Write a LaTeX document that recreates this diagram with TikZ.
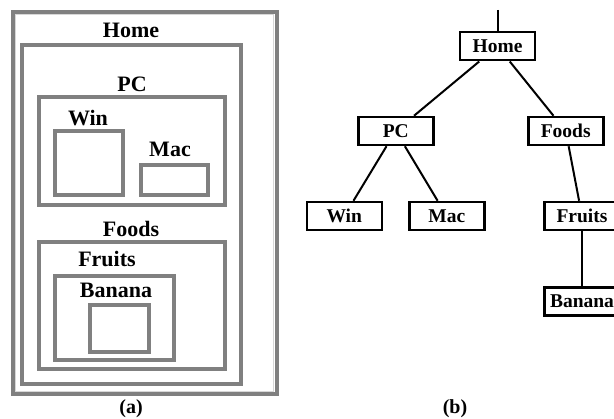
\documentclass[tikz,border=0pt]{standalone}
\usepackage{fontspec}
\setmainfont{Liberation Serif}
\definecolor{boxgray}{RGB}{128,128,128}
\definecolor{lightline}{RGB}{215,215,215}
\begin{document}
\begin{tikzpicture}[x=1pt,y=-1pt,
  gbox/.style={draw=boxgray,line width=4pt},
  glabel/.style={anchor=base,inner sep=0pt,font=\fontsize{22}{26}\selectfont\bfseries},
  tnode/.style={draw=black,line width=2.5pt,minimum width=75pt,minimum height=28pt,inner sep=0pt,
    font=\fontsize{19.5}{23}\selectfont\bfseries},
  tedge/.style={line width=2pt},
  caption/.style={inner sep=0pt,font=\fontsize{20}{24}\selectfont\bfseries}]
\useasboundingbox (0,0) rectangle (614,419);
% ---- (a) nested boxes ----
\draw[gbox] (12.5,12) rectangle (276.5,394.5);
\draw[draw=lightline,line width=1.2pt] (15.3,14.8) rectangle (273.7,391.7);
\draw[gbox] (21.5,45.5) rectangle (241,384.5);
\draw[gbox] (38.5,97) rectangle (225,205.5);
\draw[gbox] (55,131) rectangle (123,195);
\draw[gbox] (140.5,165) rectangle (208,195);
\draw[gbox] (38.5,242) rectangle (225,369);
\draw[gbox] (55,276.5) rectangle (174,360.5);
\draw[gbox] (89.5,305) rectangle (148.5,352);
\node[glabel] (lHome) at (131,38) {Home};
\node[glabel] (lPC) at (132,92) {PC};
\node[glabel] (lWin) at (88,126) {Win};
\node[glabel] (lMac) at (170,157) {Mac};
\node[glabel] (lFoods) at (131,237) {Foods};
\node[glabel] (lFruits) at (107,267) {Fruits};
\node[glabel] (lBanana) at (116,298) {Banana};
\node[caption] (capa) at (131,409) {(a)};
% ---- (b) tree ----
\node[tnode] (Home) at (497.5,46.25) {Home};
\node[tnode] (PC) at (395.75,131) {PC};
\node[tnode] (Foods) at (565.75,131) {Foods};
\node[tnode] (Win) at (344.25,216) {Win};
\node[tnode] (Mac) at (446.75,216) {Mac};
\node[tnode] (Fruits) at (582,216) {Fruits};
\node[tnode] (Banana) at (582,301.5) {Banana};
\coordinate (top) at (497.5,10);
\draw[tedge] (top) -- (Home.north);
\draw[tedge] (Home) -- (PC);
\draw[tedge] (Home) -- (Foods);
\draw[tedge] (PC) -- (Win);
\draw[tedge] (PC) -- (Mac);
\draw[tedge] (Foods) -- (Fruits);
\draw[tedge] (Fruits) -- (Banana);
\node[caption] (capb) at (455,409) {(b)};
\end{tikzpicture}
\end{document}
